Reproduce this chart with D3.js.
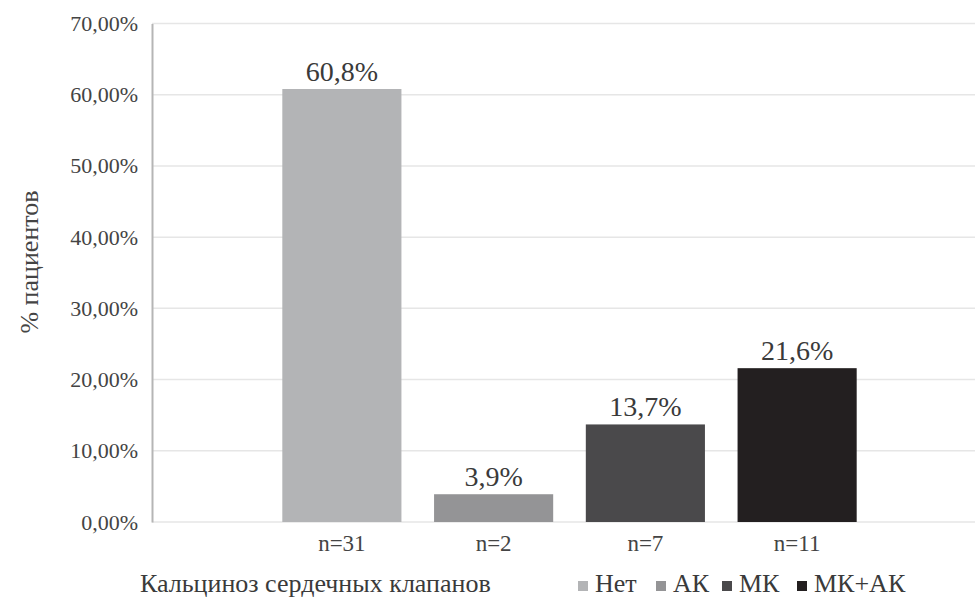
<!DOCTYPE html>
<html><head><meta charset="utf-8">
<script src="https://cdn.jsdelivr.net/npm/d3@7"></script>
<style>
body{margin:0;background:#fff}
svg{display:block}
svg, svg text, svg g{font-family:"Liberation Serif","Times New Roman",Times !important}
</style>
</head><body>
<svg id="c" width="975" height="602" font-family="Liberation Serif"></svg>
<script>
const categories = ["n=31","n=2","n=7","n=11"];
const series = ["Нет","АК","МК","МК+АК"];
const values = [60.8, 3.9, 13.7, 21.6];
const valueLabels = ["60,8%","3,9%","13,7%","21,6%"];
const yTicks = [0,10,20,30,40,50,60,70];
const yTickLabels = ["0,00%","10,00%","20,00%","30,00%","40,00%","50,00%","60,00%","70,00%"];
const colors = ["#b3b4b6","#949496","#4a494b","#231f20"];

const FONT = "Liberation Serif";
const svg = d3.select("#c");
const pLeft = 152, pRight = 975, pTop = 23.5, pBottom = 522;
const y = d3.scaleLinear().domain([0,70]).range([pBottom, pTop]);
const x = d3.scaleBand().domain(categories).range([266,873]).paddingInner(0.215).paddingOuter(0.1075);

// gridlines
svg.append("g").selectAll("line").data(yTicks).join("line")
  .attr("x1", pLeft).attr("x2", pRight)
  .attr("y1", d=>y(d)).attr("y2", d=>y(d))
  .attr("stroke", "#e6e6e6").attr("stroke-width", 1.5);

// y axis
const yAxis = d3.axisLeft(y).tickValues(yTicks).tickFormat((d,i)=>yTickLabels[i]).tickSize(0).tickPadding(14);
const gy = svg.append("g").attr("transform", `translate(${pLeft},0)`).call(yAxis);
gy.attr("font-family", FONT).attr("font-size", null);
gy.select(".domain").attr("stroke", "#b5b5b5").attr("stroke-width", 2);
gy.selectAll("text").attr("font-family", FONT).attr("font-size", 22).attr("fill", "#444").attr("dy", "0.32em");

// bars
svg.append("g").selectAll("rect").data(values).join("rect")
  .attr("x", (d,i)=>x(categories[i]))
  .attr("width", x.bandwidth())
  .attr("y", d=>y(d))
  .attr("height", d=>y(0)-y(d))
  .attr("fill", (d,i)=>colors[i]);

// value labels
svg.append("g").selectAll("text").data(values).join("text")
  .attr("x", (d,i)=>x(categories[i]) + x.bandwidth()/2)
  .attr("y", d=>y(d) - 8)
  .attr("text-anchor", "middle").attr("font-family", FONT).attr("font-size", 28).attr("fill", "#3a3a3a")
  .text((d,i)=>valueLabels[i]);

// x axis labels
const xAxis = d3.axisBottom(x).tickSize(0).tickPadding(0);
const gx = svg.append("g").attr("transform", `translate(0,${pBottom})`).call(xAxis);
gx.attr("font-family", FONT).attr("font-size", null);
gx.select(".domain").remove();
gx.selectAll("text").attr("font-family", FONT).attr("font-size", 23).attr("fill", "#444").attr("dy", null).attr("y", 29);

// y title
svg.append("text").attr("transform", "translate(38,262) rotate(-90)")
  .attr("text-anchor", "middle").attr("font-family", FONT).attr("font-size", 26).attr("fill", "#444").text("% пациентов");

// x title
svg.append("text").attr("x", 140).attr("y", 592).attr("font-family", FONT).attr("font-size", 26).attr("fill", "#3a3a3a").text("Кальциноз сердечных клапанов");

// legend
const legX = [578, 656, 722, 797];
const lg = svg.append("g").selectAll("g").data(series).join("g").attr("transform", (d,i)=>`translate(${legX[i]},0)`);
lg.append("rect").attr("x",0).attr("y",581).attr("width",10).attr("height",10).attr("fill",(d,i)=>colors[i]);
lg.append("text").attr("x",17).attr("y",592).attr("font-family", FONT).attr("font-size",26).attr("fill","#3a3a3a").text(d=>d);
</script>
</body></html>
